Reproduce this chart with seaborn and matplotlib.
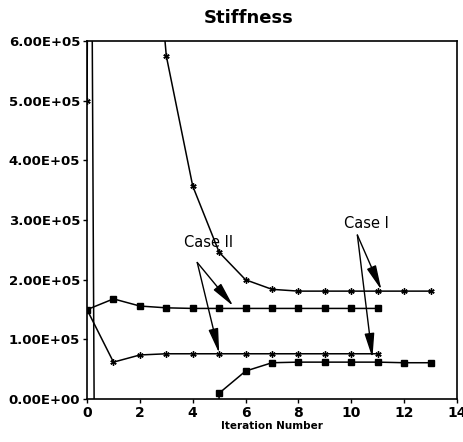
import matplotlib
matplotlib.use("Agg")
import matplotlib.pyplot as plt
import pandas as pd
import seaborn as sns

# Stiffness convergence vs iteration number
iterations = list(range(0, 14))

# Case I (asterisks) - starts high, settles ~1.8E5
case1_star = [5.0e5, 1.0e7, 1.08e6, 5.75e5, 3.57e5, 2.46e5, 2.0e5,
              1.84e5, 1.81e5, 1.81e5, 1.81e5, 1.81e5, 1.81e5, 1.81e5]
# Case I (squares) - off scale early, settles ~6.2E4
case1_square = [2.3e6, -6.3e6, -5.0e6, -3.0e6, -2.0e6, 1.0e4, 4.7e4,
                6.1e4, 6.2e4, 6.2e4, 6.2e4, 6.2e4, 6.1e4, 6.1e4]
# Case II runs stop at iteration 11
iterations2 = list(range(0, 12))
case2_star = [1.5e5, 6.2e4, 7.4e4, 7.6e4, 7.6e4, 7.6e4, 7.6e4,
              7.6e4, 7.6e4, 7.6e4, 7.6e4, 7.6e4]
case2_square = [1.5e5, 1.68e5, 1.56e5, 1.53e5, 1.52e5, 1.52e5, 1.52e5,
                1.52e5, 1.52e5, 1.52e5, 1.52e5, 1.52e5]

ytick_vals = [0, 1e5, 2e5, 3e5, 4e5, 5e5, 6e5]
ytick_labels = ["0.00E+00", "1.00E+05", "2.00E+05", "3.00E+05",
                "4.00E+05", "5.00E+05", "6.00E+05"]
xtick_vals = [0, 2, 4, 6, 8, 10, 12, 14]

sns.set_style("ticks")
plt.rcParams["font.family"] = ["DejaVu Sans"]
plt.rcParams["text.color"] = "black"
plt.rcParams["axes.labelcolor"] = "black"

fig = plt.figure(figsize=(4.63, 4.42), dpi=100)
ax = fig.add_axes([0.188, 0.097, 0.799, 0.81])

star = (6, 2, 0)
series = [
    (iterations, case1_star, star, 4.5),
    (iterations, case1_square, "s", 4.5),
    (iterations2, case2_star, star, 4.5),
    (iterations2, case2_square, "s", 4.5),
]
for xs, ys, mk, ms in series:
    df = pd.DataFrame({"x": xs, "y": ys})
    sns.lineplot(data=df, x="x", y="y", ax=ax, color="black", lw=1.1,
                 marker=mk, markersize=ms, markeredgecolor="black",
                 markerfacecolor="black", markeredgewidth=1.0,
                 errorbar=None, sort=False)

arrow = dict(arrowstyle="-|>,head_length=1.0,head_width=0.2",
             color="black", lw=1.0, mutation_scale=15, shrinkA=0, shrinkB=0)
ax.text(4.58, 2.63e5, "Case II", ha="center", va="center", fontsize=10.5,
        color="black")
ax.annotate("", xy=(5.53, 1.56e5), xytext=(4.17, 2.29e5), arrowprops=arrow)
ax.annotate("", xy=(5.0, 0.77e5), xytext=(4.17, 2.29e5), arrowprops=arrow)
ax.text(10.57, 2.95e5, "Case I", ha="center", va="center", fontsize=10.5,
        color="black")
ax.annotate("", xy=(11.14, 1.83e5), xytext=(10.23, 2.75e5), arrowprops=arrow)
ax.annotate("", xy=(10.8, 0.69e5), xytext=(10.23, 2.75e5), arrowprops=arrow)

ax.set_xlim(0, 14)
ax.set_ylim(0, 6e5)
ax.set_xticks(xtick_vals)
ax.set_xticklabels([str(v) for v in xtick_vals], fontweight="bold", fontsize=10)
ax.set_yticks(ytick_vals)
ax.set_yticklabels(ytick_labels, fontweight="bold", fontsize=9.5)
ax.tick_params(axis="both", direction="out", length=3, width=1, pad=2,
               colors="black")
for s in ax.spines.values():
    s.set_visible(True)
    s.set_color("black")
    s.set_linewidth(1.2)

ax.set_xlabel("Iteration Number", fontweight="bold", fontsize=7.5,
              labelpad=1, color="black")
ax.set_ylabel("")
fig.text(0.537, 0.959, "Stiffness", ha="center", va="center",
         fontweight="bold", fontsize=13, color="black")

fig.savefig("out.png", dpi=100)
